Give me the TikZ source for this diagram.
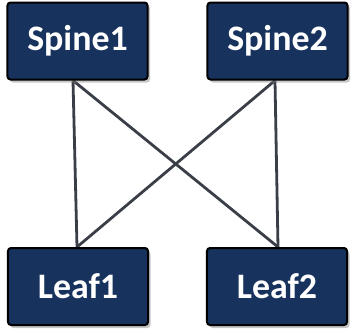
\documentclass[tikz,border=0pt]{standalone}
\usepackage{fontspec}
\setmainfont{Carlito}
\usetikzlibrary{shadows,backgrounds}
\definecolor{boxnavy}{HTML}{17325C}
\definecolor{linkgray}{HTML}{3A3F47}
\tikzset{
  switchbox/.style={draw=black, line width=2bp, fill=boxnavy, rounded corners=3bp,
    minimum width=140bp, minimum height=77bp, inner sep=0pt,
    text=white, font=\fontsize{36}{40}\selectfont\bfseries,
    drop shadow={shadow xshift=2.5bp, shadow yshift=-3bp, opacity=0.45}},
  link/.style={draw=linkgray, line width=2.8bp}
}
\begin{document}
\begin{tikzpicture}[x=1bp,y=-1bp]
  \useasboundingbox (0,0) rectangle (351,330);
  % switches
  \node[switchbox] (s1) at (77.5,41) {Spine1};
  \node[switchbox] (s2) at (277.5,41) {Spine2};
  \node[switchbox] (l1) at (78,286.5) {Leaf1};
  \node[switchbox] (l2) at (277,286.5) {Leaf2};
  % links, drawn beneath the switches
  \begin{scope}[on background layer]
    \draw[link] ([xshift=-4.5bp]s1.south) -- ([xshift=-1bp]l1.north);
    \draw[link] ([xshift=-4.5bp]s1.south) -- ([xshift=1bp]l2.north);
    \draw[link] ([xshift=-2.5bp]s2.south) -- ([xshift=-1bp]l1.north);
    \draw[link] ([xshift=-2.5bp]s2.south) -- ([xshift=1bp]l2.north);
  \end{scope}
\end{tikzpicture}
\end{document}
